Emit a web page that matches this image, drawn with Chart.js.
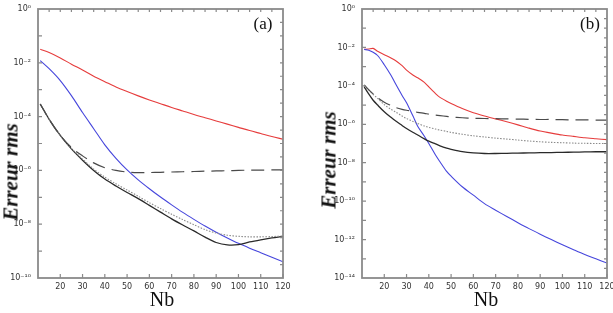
<!DOCTYPE html>
<html>
<head>
<meta charset="utf-8">
<script src="https://cdn.jsdelivr.net/npm/chart.js@4.4.1/dist/chart.umd.min.js"></script>
<style>
  html, body { margin: 0; padding: 0; background: #fff; }
  #wrap { position: relative; width: 613px; height: 313px; overflow: hidden; }
  canvas { position: absolute; top: 0; }
  .lbl { position: absolute; transform: translate(-50%, -50%); white-space: nowrap; color: #111; font-family: "Liberation Serif", "DejaVu Serif", serif; }
  .ytitle { font-weight: bold; font-style: italic; font-size: 21px; line-height: 1; transform: translate(-50%, -50%) rotate(-90deg); }
  .xtitle { font-size: 20px; }
  .tag { font-size: 17px; }
</style>
</head>
<body>
<div id="wrap">
  <canvas id="chartA" width="300" height="313" style="left:0"></canvas>
  <canvas id="chartB" width="313" height="313" style="left:300px"></canvas>
  <div class="lbl ytitle" style="left:11px; top:172px">Erreur rms</div>
  <div class="lbl ytitle" style="left:329px; top:160px">Erreur rms</div>
  <div class="lbl xtitle" style="left:162px; top:299px">Nb</div>
  <div class="lbl xtitle" style="left:486px; top:299px">Nb</div>
  <div class="lbl tag" style="left:263px; top:24px">(a)</div>
  <div class="lbl tag" style="left:590px; top:24px">(b)</div>
</div>
<script>
// panel (a): values are log10 of the rms error
const nbA = [11, 15, 20, 25, 30, 35, 40, 45, 50, 55, 60, 65, 70, 75, 80, 85, 90, 95, 100, 105, 110, 115, 120];
const redA = [-1.50, -1.62, -1.82, -2.05, -2.27, -2.50, -2.70, -2.90, -3.07, -3.23, -3.38, -3.52, -3.66, -3.79, -3.92, -4.04, -4.16, -4.28, -4.40, -4.52, -4.63, -4.74, -4.84];
const blueA = [-1.92, -2.22, -2.66, -3.22, -3.85, -4.45, -5.05, -5.55, -5.98, -6.35, -6.68, -6.99, -7.28, -7.56, -7.82, -8.07, -8.30, -8.51, -8.71, -8.89, -9.06, -9.23, -9.40];
const solidA = [-3.53, -4.10, -4.70, -5.20, -5.62, -6.00, -6.32, -6.58, -6.82, -7.05, -7.30, -7.55, -7.80, -8.03, -8.25, -8.48, -8.68, -8.77, -8.76, -8.66, -8.58, -8.51, -8.45];
const dottedA = [-3.53, -4.10, -4.70, -5.18, -5.58, -5.95, -6.25, -6.50, -6.73, -6.96, -7.20, -7.42, -7.63, -7.83, -8.02, -8.20, -8.33, -8.41, -8.45, -8.47, -8.47, -8.46, -8.44];
const dashedA = [-3.53, -4.10, -4.70, -5.15, -5.46, -5.72, -5.90, -6.00, -6.06, -6.08, -6.08, -6.07, -6.06, -6.05, -6.04, -6.03, -6.02, -6.01, -6.00, -5.99, -5.99, -5.98, -5.98];
const yLabelsA = [0, -2, -4, -6, -8, -10];

// panel (b)
const nbB = [11, 13, 15, 17, 20, 23, 25, 28, 30, 33, 35, 38, 40, 43, 45, 48, 50, 55, 60, 65, 70, 75, 80, 85, 90, 95, 100, 105, 110, 115, 120];
const redB = [-2.10, -2.08, -2.05, -2.20, -2.38, -2.55, -2.68, -2.95, -3.18, -3.45, -3.58, -3.82, -4.05, -4.40, -4.60, -4.80, -4.92, -5.18, -5.40, -5.57, -5.72, -5.87, -6.03, -6.20, -6.35, -6.46, -6.56, -6.63, -6.70, -6.75, -6.80];
const blueB = [-2.10, -2.15, -2.25, -2.42, -2.90, -3.45, -3.88, -4.50, -4.88, -5.60, -6.10, -6.62, -7.00, -7.60, -7.95, -8.45, -8.70, -9.25, -9.69, -10.13, -10.47, -10.80, -11.12, -11.43, -11.72, -12.00, -12.27, -12.53, -12.78, -13.00, -13.22];
const solidB = [-4.05, -4.42, -4.75, -5.00, -5.35, -5.64, -5.82, -6.06, -6.22, -6.43, -6.56, -6.76, -6.88, -7.02, -7.12, -7.24, -7.30, -7.42, -7.49, -7.52, -7.52, -7.51, -7.50, -7.49, -7.48, -7.47, -7.46, -7.45, -7.44, -7.43, -7.43];
const dottedB = [-4.00, -4.22, -4.45, -4.65, -4.98, -5.22, -5.35, -5.57, -5.70, -5.86, -5.96, -6.09, -6.16, -6.25, -6.30, -6.37, -6.42, -6.52, -6.60, -6.66, -6.72, -6.77, -6.82, -6.87, -6.91, -6.94, -6.96, -6.98, -6.99, -7.00, -7.00];
const dashedB = [-3.95, -4.20, -4.42, -4.62, -4.85, -5.02, -5.12, -5.22, -5.27, -5.33, -5.38, -5.43, -5.47, -5.52, -5.55, -5.59, -5.62, -5.66, -5.69, -5.70, -5.71, -5.72, -5.73, -5.74, -5.75, -5.75, -5.76, -5.77, -5.77, -5.78, -5.78];
const yLabelsB = [0, -2, -4, -6, -8, -10, -12, -14];

const xLabels = [20, 30, 40, 50, 60, 70, 80, 90, 100, 110, 120];

const SUP = { '0': '⁰', '1': '¹', '2': '²', '3': '³', '4': '⁴', '5': '⁵', '6': '⁶', '7': '⁷', '8': '⁸', '9': '⁹', '-': '⁻' };
function pow10Label(e) {
  return '10' + String(e).split('').map(c => SUP[c]).join('');
}

function pts(xs, logs) {
  return xs.map((x, i) => ({ x: x, y: Math.pow(10, logs[i]) }));
}

// frame with inward ticks on all four sides
const framePlugin = {
  id: 'frame',
  afterDraw(chart) {
    const { ctx, chartArea: a, scales } = chart;
    const x = scales.x, y = scales.y;
    const minE = Math.round(Math.log10(y.min));
    ctx.save();
    ctx.strokeStyle = '#8a8a8a';
    ctx.lineWidth = 1.2;
    ctx.beginPath();
    for (let v = 20; v <= 120; v += 10) {
      const px = x.getPixelForValue(v);
      ctx.moveTo(px, a.bottom); ctx.lineTo(px, a.bottom - 4);
    }
    for (let v = 15; v < 120; v += 5) {
      const px = x.getPixelForValue(v);
      ctx.moveTo(px, a.top); ctx.lineTo(px, a.top + 3);
    }
    for (let e = -1; e > minE; e--) {
      const py = y.getPixelForValue(Math.pow(10, e));
      ctx.moveTo(a.left, py); ctx.lineTo(a.left + 4, py);
    }
    for (let e = -0.5; e > minE; e -= 0.5) {
      const py = y.getPixelForValue(Math.pow(10, e));
      ctx.moveTo(a.right, py); ctx.lineTo(a.right - 3, py);
    }
    ctx.stroke();
    ctx.lineWidth = 1.8;
    ctx.strokeRect(a.left, a.top, a.right - a.left, a.bottom - a.top);
    ctx.restore();
  }
};

function makeChart(id, nb, red, blue, solid, dotted, dashed, yLabels, yWidth, padRight, redTension) {
  const minE = yLabels[yLabels.length - 1];
  return new Chart(document.getElementById(id), {
    type: 'line',
    data: {
      datasets: [
        { data: pts(nb, dashed), borderColor: '#4a4a4a', borderWidth: 1.2, borderDash: [13, 7], tension: 0.3 },
        { data: pts(nb, dotted), borderColor: '#8a8a8a', borderWidth: 1.1, borderDash: [1.5, 1.5], tension: 0.3 },
        { data: pts(nb, solid), borderColor: '#2a2a2a', borderWidth: 1.3, tension: 0.3 },
        { data: pts(nb, blue), borderColor: '#4646dc', borderWidth: 1.1, tension: 0.3 },
        { data: pts(nb, red), borderColor: '#e63c3c', borderWidth: 1.1, tension: redTension }
      ]
    },
    options: {
      responsive: false,
      animation: false,
      events: [],
      elements: { point: { radius: 0 } },
      layout: { padding: { top: 9, right: padRight, left: 0, bottom: 0 } },
      plugins: { legend: { display: false }, tooltip: { enabled: false } },
      scales: {
        x: {
          type: 'linear',
          min: 10,
          max: 120,
          grid: { display: false, drawTicks: false },
          border: { display: false },
          afterBuildTicks: s => { s.ticks = xLabels.map(v => ({ value: v })); },
          afterFit: s => { s.height = 35; s.paddingLeft = 0; s.paddingRight = 0; },
          ticks: {
            padding: 4,
            maxRotation: 0,
            autoSkip: false,
            color: '#333',
            font: { family: 'DejaVu Sans', size: 8 }
          }
        },
        y: {
          type: 'logarithmic',
          min: Math.pow(10, minE),
          max: 1,
          grid: { display: false, drawTicks: false },
          border: { display: false },
          afterBuildTicks: s => { s.ticks = yLabels.map(e => ({ value: Math.pow(10, e) })); },
          afterFit: s => { s.width = yWidth; s.paddingTop = 0; s.paddingBottom = 0; },
          ticks: {
            padding: 7,
            autoSkip: false,
            color: '#333',
            font: { family: 'DejaVu Sans', size: 8 },
            callback: v => pow10Label(Math.round(Math.log10(v)))
          }
        }
      }
    },
    plugins: [framePlugin]
  });
}

makeChart('chartA', nbA, redA, blueA, solidA, dottedA, dashedA, yLabelsA, 38, 17, 0.3);
makeChart('chartB', nbB, redB, blueB, solidB, dottedB, dashedB, yLabelsB, 62, 6, 0.2);
</script>
</body>
</html>
